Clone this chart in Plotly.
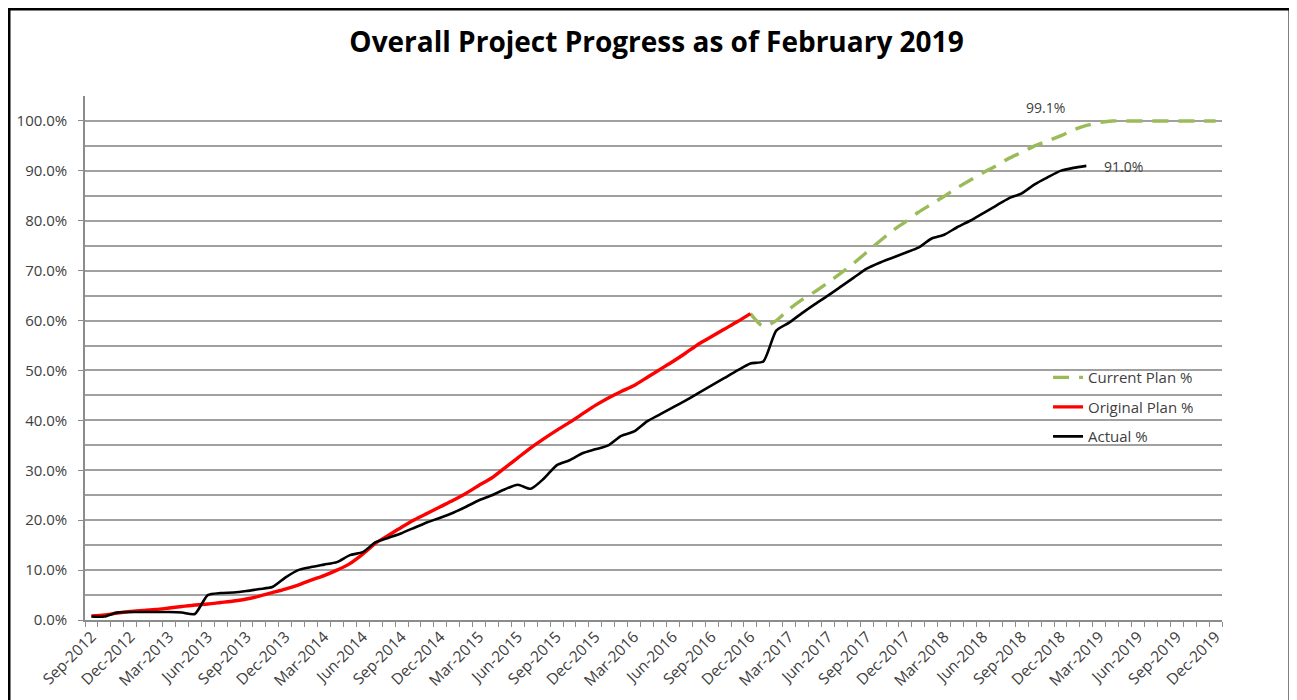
import plotly.graph_objects as go
import pandas as pd

# ---- categories (monthly) ----
months = list(pd.date_range("2012-09-01", "2019-12-01", freq="MS").strftime("%b-%Y"))

tick_labels = ["Sep-2012", "Dec-2012", "Mar-2013", "Jun-2013", "Sep-2013", "Dec-2013",
               "Mar-2014", "Jun-2014", "Sep-2014", "Dec-2014", "Mar-2015", "Jun-2015",
               "Sep-2015", "Dec-2015", "Mar-2016", "Jun-2016", "Sep-2016", "Dec-2016",
               "Mar-2017", "Jun-2017", "Sep-2017", "Dec-2017", "Mar-2018", "Jun-2018",
               "Sep-2018", "Dec-2018", "Mar-2019", "Jun-2019", "Sep-2019", "Dec-2019"]

# ---- series values (%) ----
original_plan = [0.8, 1.0, 1.4, 1.7, 1.9, 2.1, 2.4, 2.7, 3.0, 3.2,
                 3.5, 3.8, 4.2, 4.8, 5.5, 6.2, 7.0, 8.0, 8.9, 10.0,
                 11.3, 13.2, 15.4, 17.0, 18.6, 20.1, 21.4, 22.7, 24.0, 25.4,
                 27.0, 28.5, 30.5, 32.5, 34.5, 36.3, 38.0, 39.6, 41.3, 43.0,
                 44.5, 45.8, 47.0, 48.6, 50.2, 51.8, 53.5, 55.3, 56.8, 58.3,
                 59.8, 61.4]

actual = [0.7, 0.7, 1.5, 1.6, 1.6, 1.6, 1.6, 1.5, 1.2, 5.0,
          5.4, 5.5, 5.8, 6.2, 6.6, 8.5, 10.0, 10.6, 11.1, 11.6,
          13.0, 13.6, 15.6, 16.5, 17.4, 18.5, 19.6, 20.5, 21.5, 22.7,
          24.0, 25.0, 26.2, 27.1, 26.3, 28.3, 31.0, 32.0, 33.4, 34.2,
          35.0, 36.9, 37.8, 39.8, 41.2, 42.6, 44.0, 45.5, 47.0, 48.5,
          50.0, 51.4, 51.8, 58.0, 59.6, 61.5, 63.3, 65.0, 66.8, 68.6,
          70.4, 71.6, 72.6, 73.6, 74.6, 76.4, 77.2, 78.7, 80.0, 81.5,
          83.0, 84.5, 85.5, 87.3, 88.7, 90.0, 90.6, 91.0]

current_plan = [61.4, 58.8, 60.0, 62.3, 64.2, 65.8, 67.6, 69.5, 71.5, 73.7,
                75.9, 78.0, 79.8, 81.7, 83.3, 84.9, 86.6, 88.1, 89.6, 91.0,
                92.5, 93.7, 95.0, 96.0, 97.0, 98.2, 99.1, 99.7, 100.0, 100.0,
                100.0, 100.0, 100.0, 100.0, 100.0, 100.0, 100.0]

current_start = 51  # index of Dec-2016 in months
label_month = "Feb-2019"

title_text = "Overall Project Progress as of February 2019"

FONT = "Open Sans"
TXT = "#404040"

fig = go.Figure()

fig.add_trace(go.Scatter(
    x=months[current_start:current_start + len(current_plan)], y=current_plan,
    mode="lines", name="Current Plan %", legendgroup="g1",
    line=dict(color="#9BBB59", width=3.4, dash="16px,10px", shape="spline", smoothing=0.6)))

fig.add_trace(go.Scatter(
    x=months[:len(original_plan)], y=original_plan,
    mode="lines", name="Original Plan %", legendgroup="g2",
    line=dict(color="#FF0000", width=3.4, shape="spline", smoothing=0.6)))

fig.add_trace(go.Scatter(
    x=months[:len(actual)], y=actual,
    mode="lines", name="Actual %", legendgroup="g3",
    line=dict(color="#000000", width=2.6, shape="spline", smoothing=0.6)))

# data labels
cp_val = current_plan[months.index(label_month) - current_start]
act_val = actual[months.index(label_month)]
fig.add_annotation(x=label_month, y=cp_val, text=f"{cp_val:.1f}%", showarrow=False,
                   xshift=-41, yshift=18, font=dict(family=FONT, size=14, color=TXT))
fig.add_annotation(x=label_month, y=act_val, text=f"{act_val:.1f}%", showarrow=False,
                   xanchor="left", xshift=16, yshift=-1,
                   font=dict(family=FONT, size=14, color=TXT))

# outer black border of the chart picture (page coords -> plot-area paper coords)
fig.add_shape(type="rect", xref="paper", yref="paper",
              x0=(9 - 85) / 1137, x1=(1290 - 85) / 1137,
              y0=-0.3, y1=(620 - 9) / 524,
              line=dict(color="black", width=3), fillcolor="rgba(0,0,0,0)", layer="above")

ticktext = [m if m in tick_labels else "" for m in months]

fig.update_layout(
    width=1297, height=700,
    margin=dict(l=77, r=83, t=88, b=88, autoexpand=False),
    paper_bgcolor="white", plot_bgcolor="white",
    title=dict(text=f"<b>{title_text}</b>", x=0.5, xref="container", xanchor="center",
               y=1 - 34 / 700, yref="container", yanchor="middle",
               font=dict(family=FONT, size=28, color="black")),
    showlegend=True,
    legend=dict(x=0.847, y=0.494, xanchor="left", yanchor="top",
                bgcolor="rgba(0,0,0,0)", tracegroupgap=7,
                font=dict(family=FONT, size=15, color=TXT)),
    xaxis=dict(type="category", categoryorder="array", categoryarray=months,
               range=[-0.5, len(months) - 0.5], automargin=False,
               tickmode="array", tickvals=months, ticktext=ticktext,
               tickson="boundaries", ticks="outside", ticklen=5, tickcolor="#8c8c8c",
               tickangle=-45, showgrid=False,
               showline=True, linecolor="#8c8c8c", linewidth=1.5,
               tickfont=dict(family=FONT, size=15.5, color=TXT)),
    yaxis=dict(range=[0, 105], tick0=0, dtick=10, ticksuffix="%", tickformat=".1f",
               automargin=False,
               showgrid=True, gridcolor="#a0a0a0", gridwidth=1.6,
               ticks="outside", ticklen=5, tickcolor="#8c8c8c", ticklabelstandoff=8,
               showline=True, linecolor="#8c8c8c", linewidth=1.5,
               zeroline=False,
               minor=dict(dtick=5, tick0=0, showgrid=True, gridcolor="#a0a0a0", gridwidth=1.6),
               tickfont=dict(family=FONT, size=15, color=TXT)),
)

fig.write_html("out.html")
